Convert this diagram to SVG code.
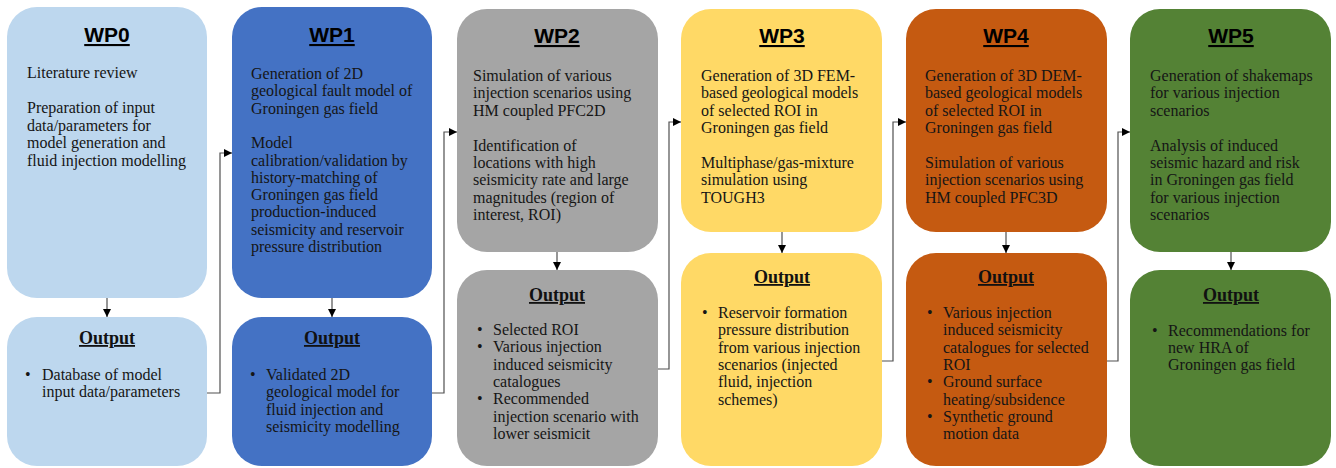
<svg xmlns="http://www.w3.org/2000/svg" width="1336" height="468" viewBox="0 0 1336 468">
<defs>
<marker id="arr" markerUnits="userSpaceOnUse" markerWidth="8" markerHeight="8" refX="8" refY="4" orient="auto">
<path d="M0,0 L8,4 L0,8 z" fill="#000"/>
</marker>
<style>
.wp{font-family:"Liberation Sans",Arial,sans-serif;font-weight:bold;font-size:21px;fill:#000;text-anchor:middle;text-decoration:underline;}
.out{font-family:"Liberation Serif","Times New Roman",serif;font-weight:bold;font-size:18px;fill:#111;text-anchor:middle;text-decoration:underline;}
.t{font-family:"Liberation Serif","Times New Roman",serif;font-size:16px;fill:#151515;}
.b0{fill:#BDD7EE;}
.b1{fill:#4472C4;}
.b2{fill:#A5A5A5;}
.b3{fill:#FFD966;}
.b4{fill:#C55A11;}
.b5{fill:#548235;}
.c{fill:none;stroke:#505050;stroke-width:1.2;}
</style>
</defs>
<rect width="1336" height="468" fill="#fff"/>

<g id="wp0">
<rect class="b0" x="7" y="7" width="200" height="291" rx="30"/>
<text class="wp" x="107" y="42">WP0</text>
<text class="t"><tspan x="27" y="78">Literature review</tspan><tspan x="27" y="113">Preparation of input</tspan><tspan x="27" y="130.5">data/parameters for</tspan><tspan x="27" y="148">model generation and</tspan><tspan x="27" y="165.5">fluid injection modelling</tspan></text>
</g>
<g id="wp0-output">
<rect class="b0" x="7" y="317" width="200" height="149" rx="30"/>
<text class="out" x="107" y="344">Output</text>
<text class="t"><tspan x="25" y="380">•</tspan><tspan x="42" y="380">Database of model</tspan><tspan x="42" y="397.3">input data/parameters</tspan></text>
</g>

<g id="wp1">
<rect class="b1" x="232" y="7" width="200" height="291" rx="30"/>
<text class="wp" x="332" y="42">WP1</text>
<text class="t"><tspan x="251" y="79">Generation of 2D</tspan><tspan x="251" y="96.3">geological fault model of</tspan><tspan x="251" y="113.6">Groningen gas field</tspan><tspan x="251" y="148.2">Model</tspan><tspan x="251" y="165.5">calibration/validation by</tspan><tspan x="251" y="182.8">history-matching of</tspan><tspan x="251" y="200.1">Groningen gas field</tspan><tspan x="251" y="217.4">production-induced</tspan><tspan x="251" y="234.7">seismicity and reservoir</tspan><tspan x="251" y="252">pressure distribution</tspan></text>
</g>
<g id="wp1-output">
<rect class="b1" x="232" y="317" width="200" height="149" rx="30"/>
<text class="out" x="332" y="344">Output</text>
<text class="t"><tspan x="250" y="380">•</tspan><tspan x="266" y="380">Validated 2D</tspan><tspan x="266" y="397.3">geological model for</tspan><tspan x="266" y="414.6">fluid injection and</tspan><tspan x="266" y="431.9">seismicity modelling</tspan></text>
</g>

<g id="wp2">
<rect class="b2" x="457" y="9" width="201" height="243" rx="30"/>
<text class="wp" x="557" y="43">WP2</text>
<text class="t"><tspan x="473" y="81">Simulation of various</tspan><tspan x="473" y="98.4">injection scenarios using</tspan><tspan x="473" y="115.8">HM coupled PFC2D</tspan><tspan x="473" y="150.6">Identification of</tspan><tspan x="473" y="168">locations with high</tspan><tspan x="473" y="185.4">seismicity rate and large</tspan><tspan x="473" y="202.8">magnitudes (region of</tspan><tspan x="473" y="220.2">interest, ROI)</tspan></text>
</g>
<g id="wp2-output">
<rect class="b2" x="457" y="270" width="201" height="196" rx="30"/>
<text class="out" x="557" y="301">Output</text>
<text class="t"><tspan x="477" y="335">•</tspan><tspan x="493" y="335">Selected ROI</tspan><tspan x="477" y="352.3">•</tspan><tspan x="493" y="352.3">Various injection</tspan><tspan x="493" y="369.6">induced seismicity</tspan><tspan x="493" y="386.9">catalogues</tspan><tspan x="477" y="404.2">•</tspan><tspan x="493" y="404.2">Recommended</tspan><tspan x="493" y="421.5">injection scenario with</tspan><tspan x="493" y="438.8">lower seismicit</tspan></text>
</g>

<g id="wp3">
<rect class="b3" x="681" y="9" width="201" height="223" rx="30"/>
<text class="wp" x="782" y="43">WP3</text>
<text class="t"><tspan x="701" y="81">Generation of 3D FEM-</tspan><tspan x="701" y="98.4">based geological models</tspan><tspan x="701" y="115.8">of selected ROI in</tspan><tspan x="701" y="133.2">Groningen gas field</tspan><tspan x="701" y="167.9">Multiphase/gas-mixture</tspan><tspan x="701" y="185.3">simulation using</tspan><tspan x="701" y="202.7">TOUGH3</tspan></text>
</g>
<g id="wp3-output">
<rect class="b3" x="681" y="253" width="201" height="213" rx="30"/>
<text class="out" x="782" y="283">Output</text>
<text class="t"><tspan x="702" y="318">•</tspan><tspan x="718" y="318">Reservoir formation</tspan><tspan x="718" y="335.3">pressure distribution</tspan><tspan x="718" y="352.6">from various injection</tspan><tspan x="718" y="369.9">scenarios (injected</tspan><tspan x="718" y="387.2">fluid, injection</tspan><tspan x="718" y="404.5">schemes)</tspan></text>
</g>

<g id="wp4">
<rect class="b4" x="906" y="9" width="201" height="223" rx="30"/>
<text class="wp" x="1006" y="43">WP4</text>
<text class="t"><tspan x="925" y="81">Generation of 3D DEM-</tspan><tspan x="925" y="98.4">based geological models</tspan><tspan x="925" y="115.8">of selected ROI in</tspan><tspan x="925" y="133.2">Groningen gas field</tspan><tspan x="925" y="167.9">Simulation of various</tspan><tspan x="925" y="185.3">injection scenarios using</tspan><tspan x="925" y="202.7">HM coupled PFC3D</tspan></text>
</g>
<g id="wp4-output">
<rect class="b4" x="906" y="253" width="201" height="213" rx="30"/>
<text class="out" x="1006" y="283">Output</text>
<text class="t"><tspan x="927" y="318">•</tspan><tspan x="943" y="318">Various injection</tspan><tspan x="943" y="335.3">induced seismicity</tspan><tspan x="943" y="352.6">catalogues for selected</tspan><tspan x="943" y="369.9">ROI</tspan><tspan x="927" y="387.2">•</tspan><tspan x="943" y="387.2">Ground surface</tspan><tspan x="943" y="404.5">heating/subsidence</tspan><tspan x="927" y="421.8">•</tspan><tspan x="943" y="421.8">Synthetic ground</tspan><tspan x="943" y="439.1">motion data</tspan></text>
</g>

<g id="wp5">
<rect class="b5" x="1130" y="9" width="201" height="243" rx="30"/>
<text class="wp" x="1231" y="43">WP5</text>
<text class="t"><tspan x="1150" y="81">Generation of shakemaps</tspan><tspan x="1150" y="98.4">for various injection</tspan><tspan x="1150" y="115.8">scenarios</tspan><tspan x="1150" y="150.6">Analysis of induced</tspan><tspan x="1150" y="168">seismic hazard and risk</tspan><tspan x="1150" y="185.4">in Groningen gas field</tspan><tspan x="1150" y="202.8">for various injection</tspan><tspan x="1150" y="220.2">scenarios</tspan></text>
</g>
<g id="wp5-output">
<rect class="b5" x="1130" y="270" width="201" height="196" rx="30"/>
<text class="out" x="1231" y="301">Output</text>
<text class="t"><tspan x="1152" y="335.5">•</tspan><tspan x="1168" y="335.5">Recommendations for</tspan><tspan x="1168" y="352.8">new HRA of</tspan><tspan x="1168" y="370.1">Groningen gas field</tspan></text>
</g>

<g id="connectors">
<path class="c" d="M107,298 V317" marker-end="url(#arr)"/>
<path class="c" d="M332,298 V317" marker-end="url(#arr)"/>
<path class="c" d="M557,252 V270" marker-end="url(#arr)"/>
<path class="c" d="M782,232 V253" marker-end="url(#arr)"/>
<path class="c" d="M1006,232 V253" marker-end="url(#arr)"/>
<path class="c" d="M1231,252 V270" marker-end="url(#arr)"/>
<path class="c" d="M207,393 H220 V153 H232" marker-end="url(#arr)"/>
<path class="c" d="M432,393 H444 V132 H457" marker-end="url(#arr)"/>
<path class="c" d="M658,369 H669 V122 H681" marker-end="url(#arr)"/>
<path class="c" d="M882,361 H893 V122 H906" marker-end="url(#arr)"/>
<path class="c" d="M1107,361 H1118 V132 H1130" marker-end="url(#arr)"/>
</g>
</svg>
